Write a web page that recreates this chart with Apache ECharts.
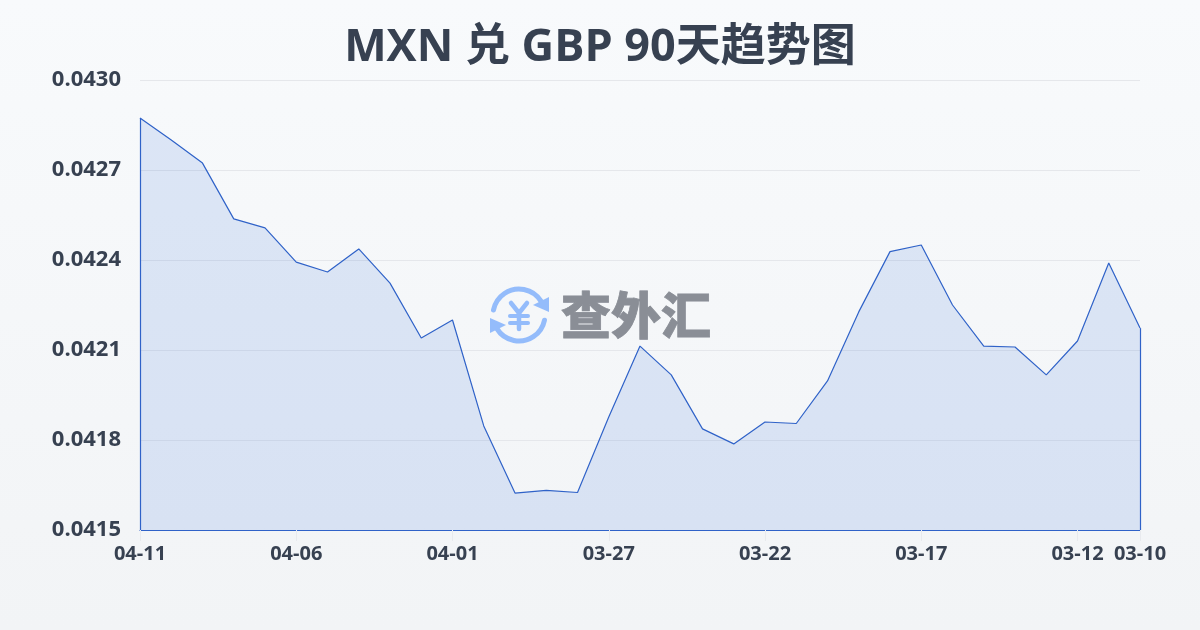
<!DOCTYPE html>
<html><head><meta charset="utf-8">
<style>html,body{margin:0;padding:0;width:1200px;height:630px;overflow:hidden}#c{width:1200px;height:630px}</style>
<script src="https://cdn.jsdelivr.net/npm/echarts@6/dist/echarts.min.js"></script>
</head><body><div id="c"></div>
<script>
const titleText = 'MXN 兑 GBP 90天趋势图';
const categories = ['04-11','04-10','04-09','04-08','04-07','04-06','04-05','04-04','04-03','04-02','04-01','03-31','03-30','03-29','03-28','03-27','03-26','03-25','03-24','03-23','03-22','03-21','03-20','03-19','03-18','03-17','03-16','03-15','03-14','03-13','03-12','03-11','03-10'];
const rates = [0.042873,0.0428,0.042723,0.042537,0.042507,0.042393,0.04236,0.042437,0.042323,0.04214,0.0422,0.041847,0.041623,0.041632,0.041625,0.041877,0.042113,0.042017,0.041837,0.041787,0.04186,0.041855,0.041997,0.042227,0.042428,0.04245,0.04225,0.042113,0.04211,0.042017,0.04213,0.04239,0.042173];
const shownLabels = ['04-11','04-06','04-01','03-27','03-22','03-17','03-12','03-10'];
const yMin = 0.0415, yMax = 0.043, yStep = 0.0003;
const FONT = '"Open Sans","Noto Sans CJK SC",sans-serif';
const TXT = '#374151', LINE = '#2f62c8';
const show = (i, v) => shownLabels.includes(v);
const chart = echarts.init(document.getElementById('c'), null, {renderer:'canvas', width:1200, height:630});
const last = categories.length - 1;
const blue = '#94bcfb';
chart.setOption({
  animation:false,
  backgroundColor:new echarts.graphic.LinearGradient(0,0,0,1,[{offset:0,color:'#f8fafc'},{offset:1,color:'#f2f4f6'}]),
  title:{text:titleText,left:'center',top:21,textStyle:{fontFamily:FONT,fontSize:45,fontWeight:'bold',color:TXT}},
  grid:{left:140,right:60,top:80,bottom:100},
  xAxis:{type:'category',boundaryGap:false,data:categories,
    axisLine:{show:true,lineStyle:{color:LINE,width:1.2}},
    axisTick:{show:true,length:11,interval:show,lineStyle:{color:'#e8eaee'}},
    axisLabel:{interval:show,fontFamily:FONT,fontSize:20,fontWeight:'bold',color:TXT,margin:14,showMinLabel:true,showMaxLabel:true,hideOverlap:false},
    splitLine:{show:false}},
  yAxis:{type:'value',min:yMin,max:yMax,interval:yStep,
    axisLine:{show:false},axisTick:{show:false},
    axisLabel:{fontFamily:FONT,fontSize:22,fontWeight:'bold',color:TXT,margin:19,formatter:v=>v.toFixed(4)},
    splitLine:{show:true,lineStyle:{color:'#e5e7eb',width:1}}},
  series:[{type:'line',data:rates,symbol:'none',smooth:false,
    lineStyle:{color:LINE,width:1.2},
    areaStyle:{color:'rgba(59,110,220,0.2)'},
    markLine:{silent:true,symbol:'none',label:{show:false},animation:false,
      lineStyle:{color:LINE,width:1.2,type:'solid'},
      data:[
        [{coord:[categories[0],yMin]},{coord:[categories[0],rates[0]]}],
        [{coord:[categories[last],yMin]},{coord:[categories[last],rates[last]]}]
      ]}
  }],
  graphic:[
    {type:'arc',z:50,shape:{cx:519,cy:315,r:26,startAngle:-2.95,endAngle:-0.55},style:{stroke:blue,fill:null,lineWidth:5,lineCap:'round'}},
    {type:'arc',z:50,shape:{cx:519,cy:315,r:26,startAngle:0.2,endAngle:2.6},style:{stroke:blue,fill:null,lineWidth:5,lineCap:'round'}},
    {type:'polygon',z:50,shape:{points:[[549,297],[549,312],[533,305]]},style:{fill:blue}},
    {type:'polygon',z:50,shape:{points:[[490,318],[490,333],[506,325]]},style:{fill:blue}},
    {type:'polyline',z:50,shape:{points:[[511,303],[519,313],[527,303]]},style:{stroke:blue,fill:null,lineWidth:4.5,lineCap:'round',lineJoin:'round'}},
    {type:'line',z:50,shape:{x1:510,y1:316,x2:528,y2:316},style:{stroke:blue,lineWidth:4,lineCap:'round'}},
    {type:'line',z:50,shape:{x1:510,y1:323,x2:528,y2:323},style:{stroke:blue,lineWidth:4,lineCap:'round'}},
    {type:'line',z:50,shape:{x1:519,y1:313,x2:519,y2:329},style:{stroke:blue,lineWidth:4.5,lineCap:'round'}},
    {type:'text',z:50,style:{text:'查外汇',x:636,y:315,align:'center',verticalAlign:'middle',font:'900 50px "Noto Sans CJK SC",sans-serif',fill:'#8a8e96',stroke:'#8a8e96',lineWidth:0.8}}
  ]
});
</script></body></html>
